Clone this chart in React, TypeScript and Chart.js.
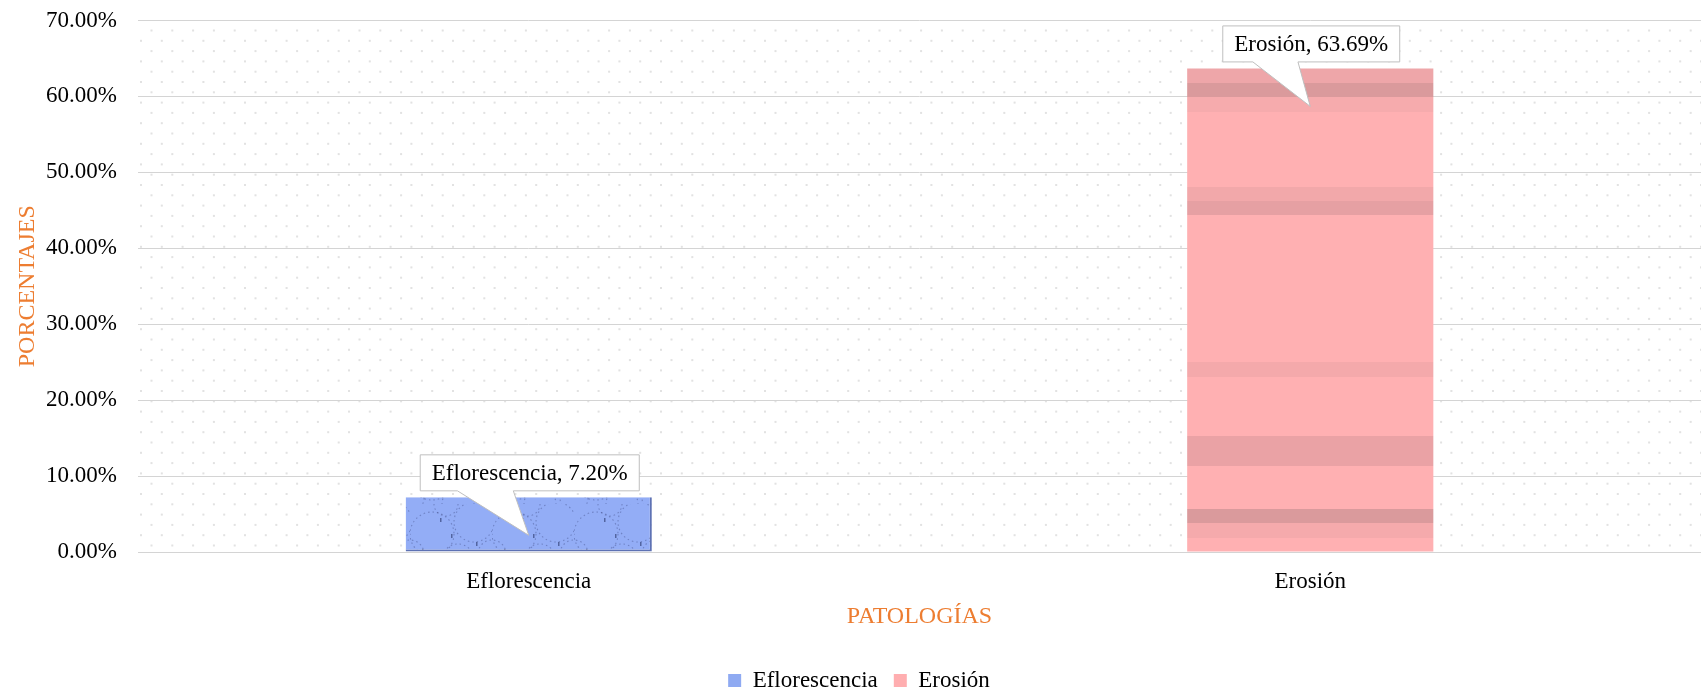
import React, { useEffect, useRef } from 'react';
import { Chart, registerables } from 'chart.js';

Chart.register(...registerables);

const categories = ['Eflorescencia', 'Erosión'];
const seriesNames = ['Eflorescencia', 'Erosión'];
const eflorescenciaValues: (number | null)[] = [7.2, null];
const erosionValues: (number | null)[] = [null, 63.69];
const yMin = 0;
const yMax = 70;
const yStep = 10;
const xTitle = 'PATOLOGÍAS';
const yTitle = 'PORCENTAJES';

const FONT = "'Liberation Serif', 'Times New Roman', serif";
const ORANGE = '#ED7D31';
const BLUE = '#93ADF6';
const PINK = '#FFB0B2';

function makeBluePattern(): CanvasPattern | string {
  const c = document.createElement('canvas');
  c.width = 82;
  c.height = 56;
  const g = c.getContext('2d');
  if (!g) return BLUE;
  g.fillStyle = BLUE;
  g.fillRect(0, 0, c.width, c.height);
  g.strokeStyle = 'rgba(45,55,110,0.35)';
  g.lineWidth = 1.1;
  g.setLineDash([1.5, 3]);
  const arcs = [
    [22, 30, 22], [64, 18, 20], [48, 56, 16], [82, 50, 14], [0, 50, 14], [36, 0, 12],
  ];
  arcs.forEach(([x, y, r]) => {
    g.beginPath();
    g.arc(x, y, r, 0, Math.PI * 2);
    g.stroke();
  });
  g.setLineDash([]);
  g.fillStyle = 'rgba(30,40,90,0.55)';
  [[41, 30], [12, 45], [66, 38], [30, 14]].forEach(([x, y]) => g.fillRect(x, y, 1.5, 4));
  const p = g.createPattern(c, 'repeat');
  return p || BLUE;
}

const pinkBands: [number, number, string][] = [
  [0.0, 0.031, '#EEA6A9'],
  [0.031, 0.06, '#DA9A9C'],
  [0.06, 0.091, '#F6ABAD'],
  [0.246, 0.275, '#F2A8AA'],
  [0.275, 0.304, '#E6A0A3'],
  [0.607, 0.638, '#F4A9AB'],
  [0.76, 0.822, '#EAA2A5'],
  [0.911, 0.94, '#DA9A9C'],
  [0.94, 0.971, '#F5AAAC'],
];

function pinkFill(ctx: any) {
  const chart = ctx.chart;
  const area = chart.chartArea;
  const v = erosionValues[ctx.dataIndex];
  if (!area || v == null || ctx.dataIndex === undefined) return PINK;
  const y = chart.scales.y;
  const top = y.getPixelForValue(v);
  const base = y.getPixelForValue(0);
  const grad = chart.ctx.createLinearGradient(0, top, 0, base);
  let last = 0;
  pinkBands.forEach(([a, b, col]) => {
    grad.addColorStop(last, PINK);
    grad.addColorStop(a, PINK);
    grad.addColorStop(a, col);
    grad.addColorStop(b, col);
    grad.addColorStop(b, PINK);
    last = b;
  });
  grad.addColorStop(1, PINK);
  return grad;
}

const dotsPlugin = {
  id: 'dotsBg',
  beforeDraw(chart: any) {
    const { ctx, chartArea: a } = chart;
    ctx.save();
    ctx.fillStyle = '#ffffff';
    ctx.fillRect(0, 0, chart.width, chart.height);
    ctx.fillStyle = '#E2E2E2';
    let row = 0;
    for (let y = a.top + 10; y < a.bottom - 1; y += 10.3) {
      const off = row % 2 === 0 ? 13.5 : 3;
      for (let x = a.left + off; x < a.right; x += 20.8) {
        ctx.fillRect(x - 1, y - 1, 2, 2);
      }
      row++;
    }
    ctx.restore();
  },
};

const calloutPlugin = {
  id: 'callouts',
  afterDatasetsDraw(chart: any) {
    const ctx = chart.ctx;
    chart.data.datasets.forEach((ds: any, di: number) => {
      const meta = chart.getDatasetMeta(di);
      meta.data.forEach((el: any, i: number) => {
        const v = ds.data[i];
        if (v == null) return;
        const text = `${categories[i]}, ${v.toFixed(2)}%`;
        ctx.save();
        ctx.font = `23px ${FONT}`;
        const tw = ctx.measureText(text).width;
        const w = tw + 23;
        const h = 36;
        const cx = el.x + 1;
        const bottom = el.y - 6.5;
        const top = bottom - h;
        const left = cx - w / 2;
        const tipX = el.x;
        const tipY = el.y + 38;
        const b1 = left + 0.17 * w;
        const b2 = left + 0.425 * w;
        ctx.beginPath();
        ctx.moveTo(left, top);
        ctx.lineTo(left + w, top);
        ctx.lineTo(left + w, bottom);
        ctx.lineTo(b2, bottom);
        ctx.lineTo(tipX, tipY);
        ctx.lineTo(b1, bottom);
        ctx.lineTo(left, bottom);
        ctx.closePath();
        ctx.fillStyle = '#ffffff';
        ctx.fill();
        ctx.strokeStyle = '#BFBFBF';
        ctx.lineWidth = 1;
        ctx.stroke();
        ctx.fillStyle = '#000000';
        ctx.textAlign = 'center';
        ctx.textBaseline = 'middle';
        ctx.fillText(text, cx, top + h / 2 + 1);
        ctx.restore();
      });
    });
  },
};

export default function App() {
  const ref = useRef<HTMLCanvasElement | null>(null);
  useEffect(() => {
    document.body.style.margin = '0';
    if (!ref.current) return;
    const bluePattern = makeBluePattern();
    const chart = new Chart(ref.current, {
      type: 'bar',
      data: {
        labels: categories,
        datasets: [
          {
            label: seriesNames[0],
            data: eflorescenciaValues,
            backgroundColor: bluePattern as any,
            borderColor: '#5E72B4',
            borderWidth: { left: 0, top: 0, right: 2, bottom: 2 } as any,
            borderSkipped: false,
            grouped: false,
            categoryPercentage: 1,
            barPercentage: 0.315,
          },
          {
            label: seriesNames[1],
            data: erosionValues,
            backgroundColor: pinkFill as any,
            borderWidth: 0,
            grouped: false,
            categoryPercentage: 1,
            barPercentage: 0.315,
          },
        ],
      },
      options: {
        animation: false,
        responsive: true,
        maintainAspectRatio: false,
        layout: { padding: { top: 20.5, right: 0, left: 17, bottom: -9 } },
        plugins: {
          tooltip: { enabled: false },
          legend: {
            position: 'bottom',
            labels: {
              font: { family: FONT, size: 23 },
              color: '#000',
              boxWidth: 13,
              boxHeight: 13,
              padding: 16,
              generateLabels: () => [
                { text: seriesNames[0], fillStyle: '#8FAAF2', strokeStyle: '#8FAAF2', lineWidth: 0, datasetIndex: 0 },
                { text: seriesNames[1], fillStyle: '#FFAEB0', strokeStyle: '#FFAEB0', lineWidth: 0, datasetIndex: 1 },
              ] as any,
            },
          },
        },
        scales: {
          x: {
            grid: { display: false, drawTicks: false },
            border: { display: true, color: '#D4D4D4', width: 1 },
            ticks: { font: { family: FONT, size: 23 }, color: '#000', padding: 16 },
            title: {
              display: true,
              text: xTitle,
              color: ORANGE,
              font: { family: FONT, size: 24 },
              padding: { top: 0, bottom: 22 },
            },
            afterFit: (s: any) => {
              s.height = 101;
            },
          },
          y: {
            min: yMin,
            max: yMax,
            ticks: {
              stepSize: yStep,
              font: { family: FONT, size: 23 },
              color: '#000',
              padding: 0,
              callback: (v: any) => Number(v).toFixed(2) + '%',
            },
            grid: {
              color: '#D4D4D4',
              lineWidth: 1,
              drawTicks: true,
              tickLength: 21,
              tickColor: 'rgba(0,0,0,0)',
            },
            border: { display: false },
            title: {
              display: true,
              text: yTitle,
              color: ORANGE,
              font: { family: FONT, size: 24 },
              padding: { top: -3.5, bottom: 0 },
            },
            afterFit: (s: any) => {
              s.width = 121;
            },
          },
        },
      },
      plugins: [dotsPlugin, calloutPlugin],
    });
    return () => chart.destroy();
  }, []);
  return (
    <div style={{ width: 1701, height: 693, position: 'relative' }}>
      <canvas ref={ref} />
    </div>
  );
}
